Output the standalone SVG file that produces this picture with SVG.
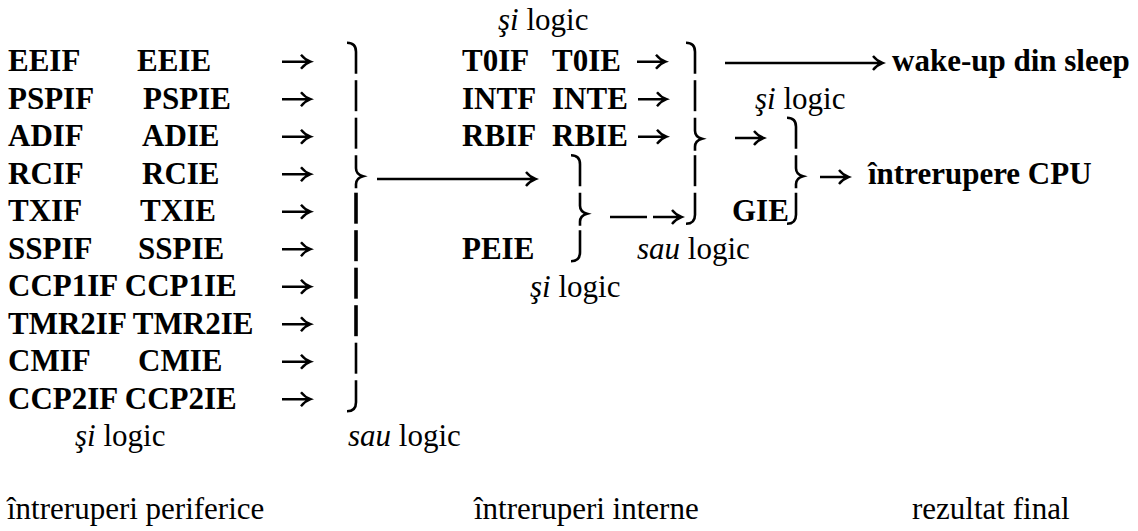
<svg xmlns="http://www.w3.org/2000/svg" width="1138" height="531" viewBox="0 0 1138 531" font-family="'Liberation Serif', 'Times New Roman', Tinos, 'DejaVu Serif', serif">
<style>
text{font-family:'Liberation Serif','Times New Roman',Tinos,'DejaVu Serif',serif;font-size:31px;fill:#000}
.b{font-weight:bold}
.i{font-style:italic}
.ln{stroke:#000;stroke-width:2.4;fill:none;stroke-linecap:butt}
.br{stroke:#000;stroke-width:2.6;fill:none}
.bt{stroke:#000;stroke-width:3.6;fill:none}
</style>
<defs>
<path id="ar" d="M0,0 H28 M19,-7 Q23,-2 28.5,0 Q23,2 19,7" class="ln"/>
<path id="top" d="M-9,-19 Q0,-19 0,-10 V12" class="br"/>
<path id="mid" d="M0,-19 V12" class="br"/>
<path id="midt" d="M0,-19 V12" class="bt"/>
<path id="bot" d="M0,-19 V3 Q0,12 -9,12" class="br"/>
<path id="tip" d="M0,-19 V-6 Q0,0 7,2 Q0,4 0,10 V14" class="br"/>
</defs>
<rect width="1138" height="531" fill="#fff"/>

<g id="row-eeif"><text class="b" x="8" y="71">EEIF</text><text class="b" x="137" y="71">EEIE</text></g>
<g id="row-pspif"><text class="b" x="8" y="108.5">PSPIF</text><text class="b" x="143" y="108.5">PSPIE</text></g>
<g id="row-adif"><text class="b" x="8" y="146">ADIF</text><text class="b" x="142" y="146">ADIE</text></g>
<g id="row-rcif"><text class="b" x="8" y="183.5">RCIF</text><text class="b" x="142" y="183.5">RCIE</text></g>
<g id="row-txif"><text class="b" x="8" y="221">TXIF</text><text class="b" x="140" y="221">TXIE</text></g>
<g id="row-sspif"><text class="b" x="8" y="258.5">SSPIF</text><text class="b" x="138" y="258.5">SSPIE</text></g>
<g id="row-ccp1"><text class="b" x="8" y="296">CCP1IF CCP1IE</text></g>
<g id="row-tmr2"><text class="b" x="8" y="333.5">TMR2IF TMR2IE</text></g>
<g id="row-cmif"><text class="b" x="8" y="371">CMIF</text><text class="b" x="138" y="371">CMIE</text></g>
<g id="row-ccp2"><text class="b" x="8" y="408.5">CCP2IF CCP2IE</text></g>

<g id="row-t0if"><text class="b" x="462" y="71">T0IF</text><text class="b" x="552" y="71">T0IE</text></g>
<g id="row-intf"><text class="b" x="462" y="108.5">INTF</text><text class="b" x="552" y="108.5">INTE</text></g>
<g id="row-rbif"><text class="b" x="462" y="146">RBIF</text><text class="b" x="552" y="146">RBIE</text></g>
<g id="row-peie"><text class="b" x="462" y="258.5">PEIE</text></g>
<g id="gie"><text class="b" x="732" y="221">GIE</text></g>
<g id="wake"><text class="b" x="892" y="71">wake-up din sleep</text></g>
<g id="cpu"><text class="b" x="868" y="183.5">întrerupere CPU</text></g>

<g id="labels">
<text x="498" y="30"><tspan class="i">şi</tspan> logic</text>
<text x="755" y="108.5"><tspan class="i">şi</tspan> logic</text>
<text x="637" y="258.5"><tspan class="i">sau</tspan> logic</text>
<text x="530" y="297"><tspan class="i">şi</tspan> logic</text>
<text x="75" y="446"><tspan class="i">şi</tspan> logic</text>
<text x="348" y="446"><tspan class="i">sau</tspan> logic</text>
<text x="7" y="519">întreruperi periferice</text>
<text x="474" y="519">întreruperi interne</text>
<text x="912" y="519">rezultat final</text>
</g>

<g id="connectors">
<use href="#ar" x="282" y="61.7"/>
<use href="#ar" x="282" y="99.2"/>
<use href="#ar" x="282" y="136.7"/>
<use href="#ar" x="282" y="174.2"/>
<use href="#ar" x="282" y="211.7"/>
<use href="#ar" x="282" y="249.2"/>
<use href="#ar" x="282" y="286.7"/>
<use href="#ar" x="282" y="324.2"/>
<use href="#ar" x="282" y="361.7"/>
<use href="#ar" x="282" y="399.2"/>
<use href="#top" x="356" y="61.7"/>
<use href="#mid" x="356" y="99.2"/>
<use href="#mid" x="356" y="136.7"/>
<use href="#tip" x="356" y="174.2"/>
<use href="#midt" x="356" y="211.7"/>
<use href="#midt" x="356" y="249.2"/>
<use href="#midt" x="356" y="286.7"/>
<use href="#midt" x="356" y="324.2"/>
<use href="#mid" x="356" y="361.7"/>
<use href="#bot" x="356" y="399.2"/>
<path class="ln" d="M377,179 H535 M526,172 Q530,177 535.5,179 Q530,181 526,186"/>
<use href="#ar" x="637" y="61.7"/>
<use href="#ar" x="638" y="99.2"/>
<use href="#ar" x="638" y="136.7"/>
<use href="#top" x="695" y="61.7"/>
<use href="#mid" x="695" y="99.2"/>
<use href="#tip" x="695" y="136.7"/>
<use href="#mid" x="695" y="174.2"/>
<use href="#bot" x="695" y="211.7"/>
<path class="ln" d="M725,63 H882 M873,56 Q877,61 882.5,63 Q877,65 873,70"/>
<use href="#ar" x="735" y="138"/>
<use href="#top" x="796" y="136.7"/>
<use href="#tip" x="796" y="174.2"/>
<use href="#bot" x="796" y="211.7"/>
<use href="#ar" x="820" y="177"/>
<use href="#top" x="580" y="174.2"/>
<use href="#tip" x="580" y="211.7"/>
<use href="#bot" x="580" y="249.2"/>
<path class="ln" d="M610,217 H647"/>
<use href="#ar" x="653" y="217"/>
</g>
</svg>
